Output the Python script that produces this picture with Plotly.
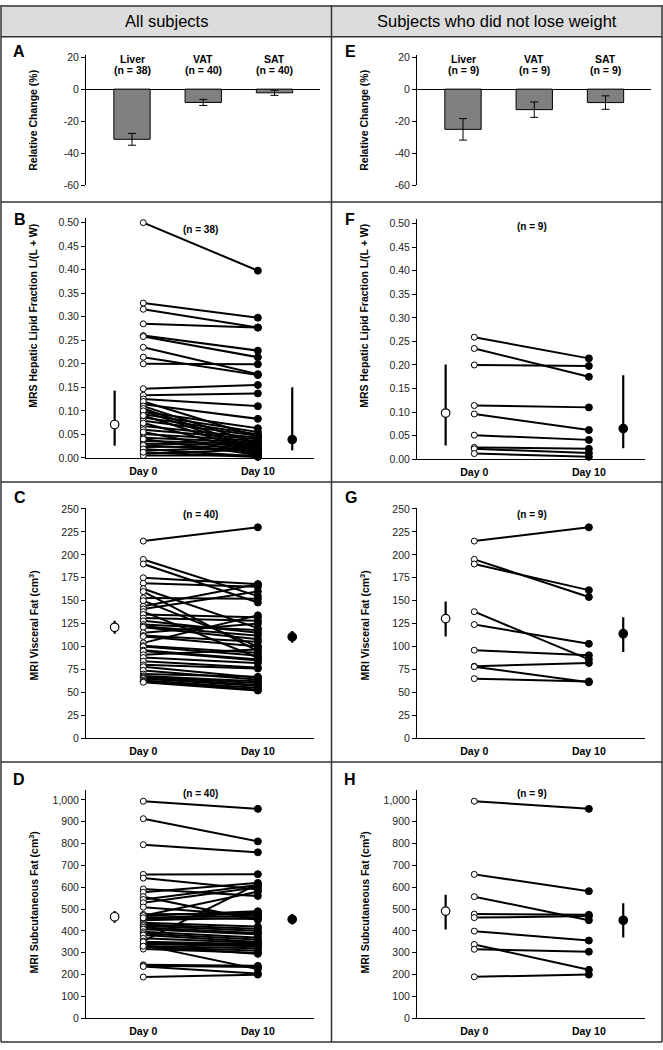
import plotly.graph_objects as go

W, H = 663, 1050
FONT = "Liberation Sans, Arial, sans-serif"

# ---------------- data ----------------
bar_categories = ["Liver", "VAT", "SAT"]
bar_n_all = [38, 40, 40]
bar_mean_all = [-31.3, -8.3, -2.3]
bar_err_all = [3.7, 1.9, 1.6]
bar_n_nl = [9, 9, 9]
bar_mean_nl = [-25.1, -12.8, -8.4]
bar_err_nl = [6.7, 4.8, 4.2]
bar_ticks = [20, 0, -20, -40, -60]
bar_ticktext = ["20", "0", "-20", "-40", "-60"]

day_labels = ["Day 0", "Day 10"]

# Hepatic lipid fraction, all subjects (n = 38)
liver_all_d0 = [0.500, 0.329, 0.316, 0.285, 0.260, 0.258, 0.235, 0.214, 0.200, 0.147,
                0.133, 0.125, 0.114, 0.098, 0.093, 0.086, 0.079, 0.068, 0.060, 0.051,
                0.043, 0.036, 0.030, 0.023, 0.016, 0.009, 0.005, 0.120, 0.110, 0.105,
                0.100, 0.090, 0.074, 0.055, 0.040, 0.027, 0.019, 0.012]
liver_all_d10 = [0.398, 0.298, 0.277, 0.277, 0.228, 0.214, 0.178, 0.176, 0.199, 0.155,
                 0.137, 0.110, 0.083, 0.063, 0.055, 0.050, 0.047, 0.043, 0.040, 0.036,
                 0.033, 0.030, 0.028, 0.025, 0.022, 0.018, 0.005, 0.045, 0.030, 0.020,
                 0.015, 0.012, 0.010, 0.008, 0.006, 0.014, 0.003, 0.002]
liver_all_center = [0.071, 0.039]
liver_all_low = [0.026, 0.016]
liver_all_high = [0.143, 0.150]

# Hepatic lipid fraction, no weight loss (n = 9)
liver_nl_d0 = [0.259, 0.235, 0.200, 0.114, 0.096, 0.051, 0.025, 0.022, 0.012]
liver_nl_d10 = [0.214, 0.175, 0.198, 0.110, 0.062, 0.041, 0.022, 0.013, 0.005]
liver_nl_center = [0.098, 0.065]
liver_nl_low = [0.029, 0.023]
liver_nl_high = [0.201, 0.178]

# Visceral fat, all subjects (n = 40)
vat_all_d0 = [215, 195, 190, 175, 169, 163, 160, 153, 150, 144,
              141, 138, 135, 131, 128, 124, 122, 121, 115, 112,
              111, 104, 101, 100, 96, 95, 91, 88, 84, 80,
              78, 74, 70, 68, 67, 66, 65, 63, 62, 61]
vat_all_d10 = [230, 155, 148, 168, 165, 120, 95, 152, 100, 168,
               160, 88, 132, 128, 115, 118, 112, 108, 125, 105,
               100, 134, 93, 90, 86, 85, 97, 82, 77, 76,
               66, 64, 67, 62, 60, 58, 57, 55, 53, 52]
vat_all_center = [121, 110.5]
vat_all_low = [114, 104]
vat_all_high = [128, 117]

# Visceral fat, no weight loss (n = 9)
vat_nl_d0 = [215, 195, 190, 138, 124, 96, 78.5, 78, 65]
vat_nl_d10 = [230, 154, 161.5, 86, 103, 90.5, 82, 61, 62]
vat_nl_center = [130.5, 114]
vat_nl_low = [111, 94]
vat_nl_high = [149, 132]

# Subcutaneous fat, all subjects (n = 40)
sat_all_d0 = [994, 914, 795, 659, 642, 592, 577, 557, 544, 529,
              509, 476, 468, 461, 455, 449, 437, 430, 424, 416,
              408, 396, 388, 381, 366, 353, 345, 340, 335, 331,
              325, 317, 245, 240, 237, 189, 470, 460, 350, 330]
sat_all_d10 = [959, 810, 760, 660, 590, 560, 620, 450, 610, 600,
               470, 480, 490, 455, 485, 460, 420, 410, 400, 390,
               385, 370, 360, 350, 345, 615, 335, 330, 225, 320,
               310, 300, 240, 235, 205, 200, 580, 470, 340, 295]
sat_all_center = [465, 453]
sat_all_low = [438, 430]
sat_all_high = [491, 478]

# Subcutaneous fat, no weight loss (n = 9)
sat_nl_d0 = [994, 659, 557, 477, 461, 399, 338, 316, 190]
sat_nl_d10 = [959, 582, 449, 474, 468, 356, 222, 305, 200]
sat_nl_center = [491, 449]
sat_nl_low = [406, 370]
sat_nl_high = [566, 527]

# ---------------- helpers ----------------
def pxx(p):
    return p / W


def pxy(p):
    return 1 - p / H


fig = go.Figure()
annotations = []
shapes = []
tickfont = dict(family=FONT, size=10.5, color="#222222")


def setup_axes(i, x0, x1, ytop, ybot, xrange, yrange, ytickvals, yticktext=None,
               ytickformat=None, days=True, zeroline=False):
    xn = "xaxis" if i == 1 else f"xaxis{i}"
    yn = "yaxis" if i == 1 else f"yaxis{i}"
    xid = "x" if i == 1 else f"x{i}"
    yid = "y" if i == 1 else f"y{i}"
    xa = dict(domain=[pxx(x0), pxx(x1)], range=xrange, anchor=yid, showgrid=False,
              zeroline=False, fixedrange=True)
    if days:
        xa.update(showline=True, linecolor="black", linewidth=1, tickvals=[0, 1],
                  ticktext=[f"<b>{d}</b>" for d in day_labels], ticks="outside",
                  ticklen=3, tickcolor="rgba(0,0,0,0)",
                  tickfont=dict(family=FONT, size=10.5, color="black"))
    else:
        xa.update(showline=False, showticklabels=False, ticks="")
    ya = dict(domain=[pxy(ybot), pxy(ytop)], range=yrange, anchor=xid, showgrid=False,
              showline=True, linecolor="black", linewidth=1, ticks="outside", ticklen=4,
              tickwidth=1, tickcolor="black", tickvals=ytickvals, tickfont=tickfont,
              zeroline=zeroline, zerolinecolor="black", zerolinewidth=1, fixedrange=True)
    if yticktext is not None:
        ya["ticktext"] = yticktext
    if ytickformat is not None:
        ya["tickformat"] = ytickformat
    fig.layout[xn] = xa
    fig.layout[yn] = ya
    return xid, yid


def add_bar_panel(i, ax0, cats, means, errs, ns):
    unit = 71.25
    off = 46.0
    xr = [-off / unit, (234 - off) / unit]
    xid, yid = setup_axes(i, ax0, ax0 + 234, 51.0, 182.2, xr, [-60, 21],
                          bar_ticks, bar_ticktext, days=False, zeroline=True)
    fig.add_trace(go.Bar(x=list(range(len(cats))), y=means, width=0.51,
                         marker=dict(color="#808080", line=dict(color="black", width=1)),
                         error_y=dict(type="data", array=errs, visible=True, color="black",
                                      thickness=1, width=4),
                         xaxis=xid, yaxis=yid, showlegend=False))
    for k, (c, n) in enumerate(zip(cats, ns)):
        annotations.append(dict(x=k, y=pxy(54.5), xref=xid, yref="paper", text=f"<b>{c}</b>",
                                showarrow=False, font=dict(family=FONT, size=10.5, color="black"),
                                xanchor="center", yanchor="middle"))
        annotations.append(dict(x=k, y=pxy(65.5), xref=xid, yref="paper",
                                text=f"<b>(n = {n})</b>", showarrow=False,
                                font=dict(family=FONT, size=10.5, color="black"),
                                xanchor="center", yanchor="middle"))


def add_pair_panel(i, ax0, ytop, ybot, yrange, ytickvals, ytickformat, d0, d10,
                   center, low, high, nlabel_y):
    xr = [-0.5, 1.49]
    xid, yid = setup_axes(i, ax0, ax0 + 228, ytop, ybot, xr, yrange, ytickvals,
                          ytickformat=ytickformat)
    lx, ly = [], []
    for a, b in zip(d0, d10):
        lx += [0, 1, None]
        ly += [a, b, None]
    fig.add_trace(go.Scatter(x=lx, y=ly, mode="lines", line=dict(color="black", width=2),
                             xaxis=xid, yaxis=yid, showlegend=False, cliponaxis=False,
                             hoverinfo="skip"))
    fig.add_trace(go.Scatter(x=[0] * len(d0), y=d0, mode="markers",
                             marker=dict(symbol="circle", size=6, color="white",
                                         line=dict(color="black", width=1)),
                             xaxis=xid, yaxis=yid, showlegend=False, cliponaxis=False))
    fig.add_trace(go.Scatter(x=[1] * len(d10), y=d10, mode="markers",
                             marker=dict(symbol="circle", size=7, color="black",
                                         line=dict(color="black", width=1)),
                             xaxis=xid, yaxis=yid, showlegend=False, cliponaxis=False))
    # summary markers
    for k, (xpos, fill) in enumerate([(-0.25, "white"), (1.3, "black")]):
        fig.add_trace(go.Scatter(
            x=[xpos], y=[center[k]], mode="markers",
            marker=dict(symbol="circle", size=8.5, color=fill, line=dict(color="black", width=1.2)),
            error_y=dict(type="data", symmetric=False, array=[high[k] - center[k]],
                         arrayminus=[center[k] - low[k]], color="black", thickness=2.2, width=0),
            xaxis=xid, yaxis=yid, showlegend=False, cliponaxis=False))
    annotations.append(dict(x=0.5, y=pxy(nlabel_y[1]), xref=xid, yref="paper",
                            text=f"<b>(n = {nlabel_y[0]})</b>", showarrow=False,
                            font=dict(family=FONT, size=10, color="black"),
                            xanchor="center", yanchor="middle"))


LEFT, RIGHT = 86, 417

# A / E
add_bar_panel(1, LEFT, bar_categories, bar_mean_all, bar_err_all, bar_n_all)
add_bar_panel(5, RIGHT, bar_categories, bar_mean_nl, bar_err_nl, bar_n_nl)

liver_ticks = [round(0.05 * k, 2) for k in range(11)]
vat_ticks = [25 * k for k in range(11)]
sat_ticks = [100 * k for k in range(11)]

# B / F
add_pair_panel(2, LEFT, 215.2, 457.7, [0, 0.51], liver_ticks, ".2f",
               liver_all_d0, liver_all_d10, liver_all_center, liver_all_low, liver_all_high,
               (len(liver_all_d0), 227))
add_pair_panel(6, RIGHT, 216.2, 459.0, [0, 0.51], liver_ticks, ".2f",
               liver_nl_d0, liver_nl_d10, liver_nl_center, liver_nl_low, liver_nl_high,
               (len(liver_nl_d0), 224))
# C / G
add_pair_panel(3, LEFT, 508.4, 741.0, [0, 251], vat_ticks, "d",
               vat_all_d0, vat_all_d10, vat_all_center, vat_all_low, vat_all_high,
               (len(vat_all_d0), 515))
add_pair_panel(7, RIGHT, 508.4, 741.0, [0, 251], vat_ticks, "d",
               vat_nl_d0, vat_nl_d10, vat_nl_center, vat_nl_low, vat_nl_high,
               (len(vat_nl_d0), 515))
# D / H
add_pair_panel(4, LEFT, 793.4, 1024.0, [0, 1045], sat_ticks, ",d",
               sat_all_d0, sat_all_d10, sat_all_center, sat_all_low, sat_all_high,
               (len(sat_all_d0), 797))
add_pair_panel(8, RIGHT, 793.4, 1024.0, [0, 1045], sat_ticks, ",d",
               sat_nl_d0, sat_nl_d10, sat_nl_center, sat_nl_low, sat_nl_high,
               (len(sat_nl_d0), 797))

# panel letters
letters = [("A", 19, 47), ("B", 20, 217), ("C", 20, 498), ("D", 19, 783),
           ("E", 350, 47), ("F", 350, 217), ("G", 351, 498), ("H", 350, 783)]
for t, x, y in letters:
    annotations.append(dict(x=pxx(x), y=pxy(y), xref="paper", yref="paper", text=f"<b>{t}</b>",
                            showarrow=False, font=dict(family=FONT, size=16, color="black"),
                            xanchor="center", yanchor="middle"))

# y-axis titles
ytitles = [("Relative Change (%)", 117), ("MRS Hepatic Lipid Fraction L/(L + W)", 314),
           ("MRI Visceral Fat (cm<sup>3</sup>)", 627), ("MRI Subcutaneous Fat (cm<sup>3</sup>)", 907)]
for t, y in ytitles:
    for x in (33, 364):
        annotations.append(dict(x=pxx(x), y=pxy(y), xref="paper", yref="paper",
                                text=f"<b>{t}</b>", textangle=-90, showarrow=False,
                                font=dict(family=FONT, size=10.5, color="black"),
                                xanchor="center", yanchor="middle"))

# header
for t, x in (("All subjects", 166), ("Subjects who did not lose weight", 497)):
    annotations.append(dict(x=pxx(x), y=pxy(16.5), xref="paper", yref="paper", text=t,
                            showarrow=False, font=dict(family=FONT, size=16.5, color="black"),
                            xanchor="center", yanchor="middle"))

shapes.append(dict(type="rect", xref="paper", yref="paper", x0=pxx(1), x1=pxx(662),
                   y0=pxy(32), y1=pxy(0.5), fillcolor="#dcdcdc", line=dict(width=0),
                   layer="below"))
line_style = dict(color="#333333", width=1.5)
for y in (1, 32, 199, 482, 765, 1048):
    shapes.append(dict(type="line", xref="paper", yref="paper", x0=pxx(1), x1=pxx(662),
                       y0=pxy(y), y1=pxy(y), line=line_style))
for x in (1, 331.5, 662):
    shapes.append(dict(type="line", xref="paper", yref="paper", x0=pxx(x), x1=pxx(x),
                       y0=pxy(0), y1=pxy(1048), line=line_style))

fig.update_layout(width=W, height=H, margin=dict(l=0, r=0, t=0, b=0),
                  paper_bgcolor="white", plot_bgcolor="rgba(0,0,0,0)",
                  font=dict(family=FONT), annotations=annotations, shapes=shapes,
                  showlegend=False, bargap=0, hovermode=False)

fig.write_html("out.html", config={"displayModeBar": False, "staticPlot": True},
               post_script="document.body.style.margin='0px';document.body.style.overflow='hidden';")
